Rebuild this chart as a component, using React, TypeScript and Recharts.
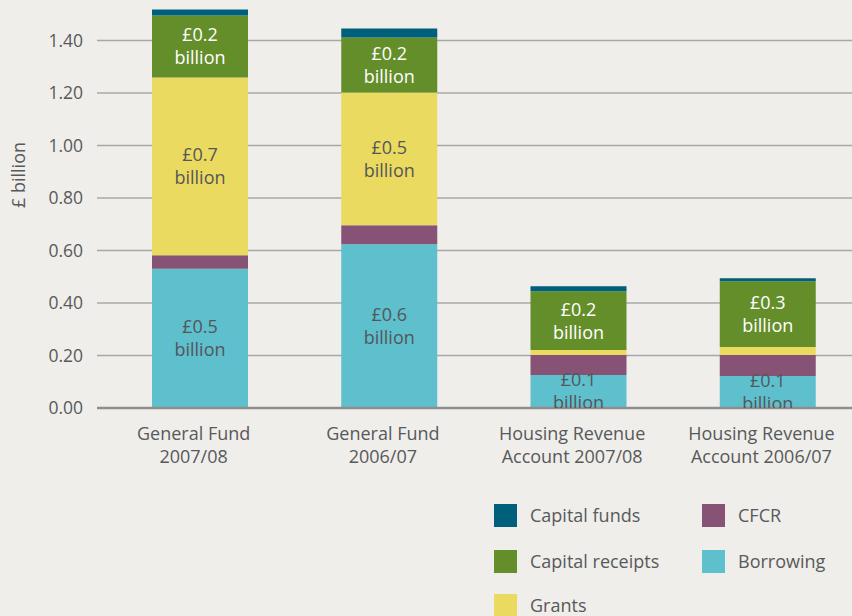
import React from 'react';
import { BarChart, Bar, XAxis, YAxis, CartesianGrid, Legend, LabelList } from 'recharts';

const categories = [
  'General Fund 2007/08',
  'General Fund 2006/07',
  'Housing Revenue Account 2007/08',
  'Housing Revenue Account 2006/07',
];
const tickLine1 = ['General Fund', 'General Fund', 'Housing Revenue', 'Housing Revenue'];
const tickLine2 = ['2007/08', '2006/07', 'Account 2007/08', 'Account 2006/07'];

const borrowing = [0.53, 0.624, 0.126, 0.122];
const cfcr = [0.052, 0.072, 0.076, 0.08];
const grants = [0.677, 0.506, 0.019, 0.03];
const capitalReceipts = [0.236, 0.209, 0.224, 0.251];
const capitalFunds = [0.023, 0.034, 0.019, 0.011];

const yTicks = [0, 0.2, 0.4, 0.6, 0.8, 1.0, 1.2, 1.4];

const seriesNames = ['Borrowing', 'CFCR', 'Grants', 'Capital receipts', 'Capital funds'];
const seriesColors = ['#5EBFCD', '#865275', '#EBDA60', '#648E2A', '#005F7A'];
const labelColors = ['#55565a', '#ffffff', '#55565a', '#ffffff', '#ffffff'];

const data = categories.map((name, i) => ({
  name,
  Borrowing: borrowing[i],
  CFCR: cfcr[i],
  Grants: grants[i],
  'Capital receipts': capitalReceipts[i],
  'Capital funds': capitalFunds[i],
}));

const FONT = '"Open Sans", sans-serif';
const TEXT = '#58595b';

const makeLabel = (key: string, color: string) => (props: any) => {
  const vb = props.viewBox || {};
  const x = props.x ?? vb.x;
  const y = props.y ?? vb.y;
  const width = props.width ?? vb.width;
  const height = props.height ?? vb.height;
  const value = Number(props.value);
  if (!(value >= 0.1)) return null;
  const top = Math.min(y, y + height);
  const h = Math.abs(height);
  const cx = x + width / 2;
  const cy = top + h / 2;
  const id = `clip-${key.replace(/\s/g, '')}-${props.index}`;
  return (
    <g>
      <defs>
        <clipPath id={id}>
          <rect x={x - 20} y={top - 100} width={width + 40} height={h + 100} />
        </clipPath>
      </defs>
      <text
        clipPath={`url(#${id})`}
        textAnchor="middle"
        fill={color}
        style={{ fontFamily: FONT, fontSize: 18 }}
      >
        <tspan x={cx} y={cy - 5}>{`£${value.toFixed(1)}`}</tspan>
        <tspan x={cx} y={cy + 18}>billion</tspan>
      </text>
    </g>
  );
};

const XTick = (props: any) => {
  const { x, y, payload } = props;
  const idx = payload.index ?? categories.indexOf(payload.value);
  return (
    <text textAnchor="middle" fill={TEXT} style={{ fontFamily: FONT, fontSize: 18 }}>
      <tspan x={x - 6} y={y + 32}>{tickLine1[idx]}</tspan>
      <tspan x={x - 6} y={y + 55}>{tickLine2[idx]}</tspan>
    </text>
  );
};

const GridLine = (p: any) => {
  if (p.x1 === p.x2) return <g />;
  if (typeof p.y === 'number' && Math.abs(p.y1 - p.y) < 0.5) return <g />;
  return (
    <line
      x1={p.x1}
      y1={p.y1}
      x2={p.x2}
      y2={p.y2}
      stroke="#a8a8a8"
      strokeWidth={1.5}
      fill="none"
    />
  );
};

const legendOrder = [
  { name: 'Capital funds', left: 24, top: 14 },
  { name: 'Capital receipts', left: 24, top: 60 },
  { name: 'Grants', left: 24, top: 104 },
  { name: 'CFCR', left: 232, top: 14 },
  { name: 'Borrowing', left: 232, top: 60 },
];

const renderLegend = (props: any) => {
  const payload = props.payload || [];
  return (
    <div style={{ position: 'relative', width: 382, height: 126 }}>
      {legendOrder.map((item) => {
        const entry = payload.find((p: any) => p.value === item.name || p.dataKey === item.name);
        const color = entry ? entry.color : seriesColors[seriesNames.indexOf(item.name)];
        return (
          <div
            key={item.name}
            style={{
              position: 'absolute',
              left: item.left,
              top: item.top,
              display: 'flex',
              alignItems: 'center',
              height: 23,
              whiteSpace: 'nowrap',
            }}
          >
            <div style={{ width: 23, height: 23, background: color, marginRight: 13 }} />
            <span style={{ fontFamily: FONT, fontSize: 18, color: TEXT, lineHeight: '23px' }}>
              {item.name}
            </span>
          </div>
        );
      })}
    </div>
  );
};

const YLabel = () => (
  <text
    x={18}
    y={175}
    transform="rotate(-90 18 175)"
    textAnchor="middle"
    dominantBaseline="central"
    fill={TEXT}
    style={{ fontFamily: FONT, fontSize: 18 }}
  >
    £ billion
  </text>
);

export default function App() {
  return (
    <div
      style={{
        position: 'absolute',
        left: 0,
        top: 0,
        width: 852,
        height: 616,
        overflow: 'hidden',
        background: '#EFEEEA',
      }}
    >
      <BarChart
        width={862}
        height={616}
        data={data}
        margin={{ top: 1, right: 0, bottom: 138, left: 0 }}
        barSize={96}
        style={{ fontFamily: FONT }}
      >
        <CartesianGrid
          vertical={false}
          horizontal={GridLine}
          stroke="none"
          fill="none"
        />
        <XAxis
          dataKey="name"
          interval={0}
          height={70}
          tickLine={false}
          tickSize={0}
          tickMargin={0}
          axisLine={{ stroke: '#8e8e8e', strokeWidth: 2.5 }}
          tick={<XTick />}
          padding={{ left: 8, right: 0 }}
        />
        <YAxis
          width={97}
          domain={[0, 1.55]}
          ticks={yTicks}
          tickFormatter={(v: number) => v.toFixed(2)}
          axisLine={false}
          tickLine={false}
          tickSize={0}
          tickMargin={14}
          tick={{ fill: TEXT, fontSize: 17.5, fontFamily: FONT }}
          label={<YLabel />}
        />
        <Legend
          layout="horizontal"
          verticalAlign="middle"
          align="center"
          content={renderLegend}
          wrapperStyle={{ left: 470, top: 490, width: 382, height: 126 }}
        />
        {seriesNames.map((key, i) => (
          <Bar key={key} dataKey={key} stackId="a" fill={seriesColors[i]} isAnimationActive={false}>
            <LabelList dataKey={key} content={makeLabel(key, labelColors[i])} />
          </Bar>
        ))}
      </BarChart>
    </div>
  );
}
